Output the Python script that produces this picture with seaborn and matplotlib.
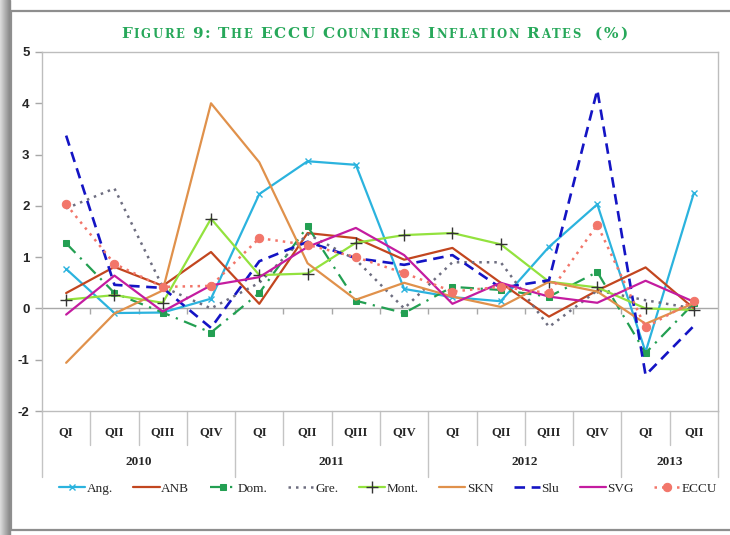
import matplotlib
matplotlib.use("Agg")
import matplotlib.pyplot as plt
import matplotlib.transforms as mtransforms
from matplotlib.patches import Rectangle
import numpy as np
import seaborn as sns

# quarterly inflation rates (%), 2010 QI .. 2013 QII
quarters = ["QI", "QII", "QIII", "QIV"] * 3 + ["QI", "QII"]
years = ["2010", "2011", "2012", "2013"]
year_len = [4, 4, 4, 2]

ang = [0.77, -0.09, -0.08, 0.19, 2.23, 2.87, 2.80, 0.38, 0.22, 0.14, 1.20, 2.03, -0.85, 2.25]
anb = [0.30, 0.81, 0.44, 1.10, 0.09, 1.47, 1.37, 0.95, 1.18, 0.50, -0.16, 0.35, 0.80, 0.00]
dom = [1.27, 0.30, -0.08, -0.47, 0.30, 1.60, 0.15, -0.09, 0.42, 0.36, 0.23, 0.71, -0.87, 0.10]
gre = [1.95, 2.34, 0.42, 0.00, 0.50, 1.45, 0.95, 0.00, 0.90, 0.90, -0.36, 0.35, 0.16, 0.00]
mont = [0.17, 0.26, 0.11, 1.75, 0.65, 0.68, 1.28, 1.43, 1.47, 1.25, 0.52, 0.41, 0.00, -0.03]
skn = [-1.06, -0.10, 0.35, 4.00, 2.85, 0.88, 0.17, 0.50, 0.23, 0.03, 0.52, 0.33, -0.30, 0.10]
slu = [3.37, 0.46, 0.40, -0.38, 0.92, 1.30, 0.98, 0.85, 1.04, 0.40, 0.55, 4.26, -1.30, -0.34]
svg = [-0.12, 0.64, -0.06, 0.45, 0.61, 1.20, 1.57, 1.04, 0.09, 0.50, 0.23, 0.11, 0.54, 0.13]
eccu = [2.03, 0.87, 0.42, 0.44, 1.37, 1.24, 1.00, 0.69, 0.33, 0.42, 0.30, 1.63, -0.37, 0.15]

series = [
    ("Ang.", ang, "#2BB3DE", "-", "x", 1.6, 5),
    ("ANB", anb, "#C2461F", "-", None, 1.6, 0),
    ("Dom.", dom, "#239F52", (0, (6, 3, 1, 3)), "s", 1.6, 4.5),
    ("Gre.", gre, "#6E6E80", (0, (1, 2)), None, 1.8, 0),
    ("Mont.", mont, "#93E23E", "-", "+", 1.6, 8),
    ("SKN", skn, "#E0914B", "-", None, 1.6, 0),
    ("Slu", slu, "#1414C4", (0, (4, 2.5)), None, 1.9, 0),
    ("SVG", svg, "#C41CA0", "-", None, 1.6, 0),
    ("ECCU", eccu, "#F2766A", (0, (1, 2)), "o", 1.8, 6),
]

sns.set_style("white")
plt.rcParams["font.family"] = ["Liberation Serif", "DejaVu Serif"]

W, H = 730, 535
fig = plt.figure(figsize=(W / 100, H / 100), dpi=100)
ax = fig.add_axes([42 / W, 1 - 411 / H, 676 / W, 359 / H])

x = np.arange(len(quarters))
for name, vals, color, ls, mk, lw, ms in series:
    kw = dict(color=color, linestyle=ls, linewidth=lw, label=name)
    if mk:
        kw.update(marker=mk, markersize=ms)
        if mk == "+":
            kw.update(markeredgecolor="#333333", markeredgewidth=1.0)
        elif mk == "x":
            kw.update(markeredgecolor=color, markeredgewidth=1.0)
        else:
            kw.update(markeredgecolor=color, markerfacecolor=color)
    sns.lineplot(x=x, y=vals, ax=ax, **kw)

ax.set_xlim(-0.5, len(quarters) - 0.5)
ax.set_ylim(-2, 5)
ax.set_yticks(range(-2, 6))
ax.set_yticklabels([str(v) for v in range(-2, 6)], family="Liberation Sans",
                   fontweight="bold", fontsize=9.5)
ax.set_xticks([])
ax.set_xlabel("")
ax.set_ylabel("")
ax.tick_params(axis="y", left=True, length=5, width=1, color="#A8A8A8", pad=4)
for sp in ax.spines.values():
    sp.set_color("#BDBDBD")
    sp.set_linewidth(1.0)

ax.axhline(0, color="#A8A8A8", lw=1, zorder=1)
bounds = np.arange(len(quarters) + 1) - 0.5
ax.vlines(bounds[1:-1], -0.1, 0, color="#A8A8A8", lw=1, zorder=1)

# two-level category axis below the plot
trans = mtransforms.blended_transform_factory(ax.transData, ax.transAxes)
year_bounds = np.concatenate([[0], np.cumsum(year_len)]) - 0.5
for b in bounds:
    bottom = -0.184 if np.any(np.isclose(b, year_bounds)) else -0.095
    ax.plot([b, b], [0, bottom], transform=trans, color="#C4C4C4", lw=1, clip_on=False)
for i, q in enumerate(quarters):
    ax.text(i, -0.058, q, transform=trans, ha="center", va="center",
            fontsize=9, fontweight="bold")
for i, yr in enumerate(years):
    mid = (year_bounds[i] + year_bounds[i + 1]) / 2
    ax.text(mid, -0.142, yr, transform=trans, ha="center", va="center",
            fontsize=9.5, fontweight="bold")

handles, labels = ax.get_legend_handles_labels()
leg = ax.legend(handles, labels, loc="center", bbox_to_anchor=(0.512, -0.217),
                ncol=9, frameon=False, fontsize=9.5, handlelength=2.0,
                handletextpad=0.1, columnspacing=1.55, borderaxespad=0)


# small caps title, letter by letter, stretched to the original width
def small_caps(fig, text, x0, x1, base_y, big, small, color):
    r = fig.canvas.get_renderer()
    glyphs = []
    for ch in text:
        if ch == " ":
            glyphs.append((None, big * 0.3 * 100 / 72))
            continue
        size = small if ch.islower() else big
        t = fig.text(0, base_y, ch.upper(), fontsize=size, fontweight="bold",
                     color=color, family="DejaVu Serif", va="baseline", ha="left")
        glyphs.append((t, t.get_window_extent(r).width))
    natural = sum(w for _, w in glyphs)
    extra = (x1 - x0 - natural) / (len(glyphs) - 1)
    xpos = x0
    for t, w in glyphs:
        if t is not None:
            t.set_x(xpos / W)
        xpos += w + extra


small_caps(fig, "Figure 9: The ECCU Countires Inflation Rates  (%)", 121, 627,
           1 - 37.5 / H, 11.0, 8.4, "#27A85A")

# frame and left shadow of the original screenshot
for i, c in enumerate(np.linspace(0.86, 0.55, 10)):
    fig.patches.append(Rectangle((i / W, 0), 1 / W, 1, transform=fig.transFigure,
                                 color=str(c), zorder=-1))
fig.patches.append(Rectangle((10.5 / W, 5 / H), 1, 1 - 15.5 / H, transform=fig.transFigure,
                             fill=False, edgecolor="#8E8E8E", lw=1.6, zorder=0))

fig.savefig("out.png", dpi=100)
